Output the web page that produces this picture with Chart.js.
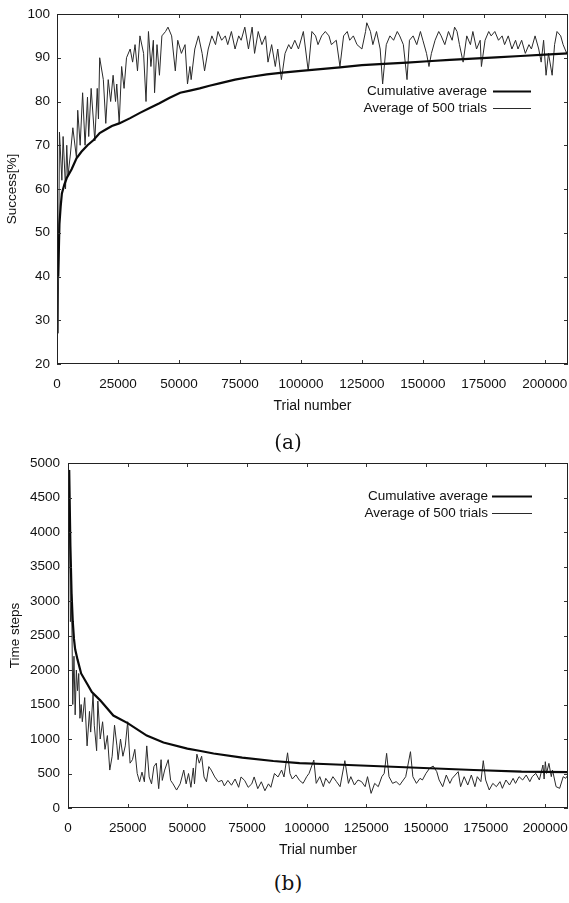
<!DOCTYPE html>
<html><head><meta charset="utf-8">
<script src="https://cdn.jsdelivr.net/npm/chart.js@4.4.0/dist/chart.umd.min.js"></script>
<style>
html,body{margin:0;padding:0;background:#fff;}
#wrap{position:relative;width:569px;height:903px;overflow:hidden;background:#fff;}
.box{position:absolute;left:0;}
.cap{position:absolute;left:0;width:576px;text-align:center;font-family:"DejaVu Serif","Liberation Serif",serif;font-size:20px;color:#111;line-height:24px;}
</style></head><body>
<div id="wrap">
  <div class="box" style="top:0;width:569px;height:420px"><canvas id="c1" width="569" height="420"></canvas></div>
  <div class="box" style="top:420px;width:569px;height:450px"><canvas id="c2" width="569" height="450"></canvas></div>
  <div class="cap" style="top:430px">(a)</div>
  <div class="cap" style="top:871px">(b)</div>
</div>
<script>
// ---------- data ----------
const xTicks = [0, 25000, 50000, 75000, 100000, 125000, 150000, 175000, 200000];
const successTicks = [20, 30, 40, 50, 60, 70, 80, 90, 100];
const stepsTicks = [0, 500, 1000, 1500, 2000, 2500, 3000, 3500, 4000, 4500, 5000];
const seriesLabels = ["Cumulative average", "Average of 500 trials"];

const successAvgTrials = [500,1000,2000,2500,3500,4000,4500,5500,6500,8000,8500,9500,10500,11500,12500,13000,14000,15500,16500,17000,17500,19000,20000,21000,22000,23000,24000,24500,25500,26500,27500,28500,30000,31000,32000,33000,34000,35500,36500,37500,38500,39500,40000,41000,42000,43000,44500,45500,47000,48500,49500,51000,52500,53500,54500,55000,56500,58000,59500,60500,62000,63500,65000,66000,67500,69000,70000,71500,73000,74500,75500,77000,78500,80000,81000,82500,84000,85500,86500,88000,89500,90500,92000,93500,95000,96000,97500,99000,101000,103000,104500,106000,107000,108500,110000,111500,112500,114500,116000,117500,119000,120000,121500,123000,125000,126500,127000,128500,129500,131000,132500,133500,135000,136500,138000,139500,140500,142000,143500,144500,146000,147500,149000,150000,151500,152500,153500,155000,156500,157500,159000,160500,162000,163000,164000,165000,166500,168000,169500,170500,172000,173500,174000,175500,177000,178000,179500,181000,182500,183500,185000,186500,188000,189000,190500,192000,193500,194500,196000,197500,198500,199500,200500,201500,203000,204000,205000,206500,207500,209000,209500];
const successAvg500 = [27,73,62,72,60,70,63,68,74,67,78,70,82,70,81,72,83,71,83,76,90,85,75,85,80,86,80,84,75,88,83,90,92,89,93,87,95,91,80,96,88,94,82,93,86,95,96,97,95,87,94,91,93,84,88,85,92,95,91,87,92,95,93,96,94,95,93,96,92,95,94,97,92,97,91,96,93,95,89,93,88,92,85,91,93,92,94,92,96,87,96,95,93,95,96,95,93,94,88,95,96,94,95,93,92,96,98,96,93,96,92,84,93,95,94,96,95,93,85,94,95,93,96,94,91,88,91,94,96,95,93,96,94,97,96,93,89,95,93,96,92,94,88,94,96,95,96,94,95,93,95,92,94,92,94,91,93,92,95,92,89,94,86,91,86,93,96,95,93,91,92];
const successCumTrials = [500,1000,1500,2000,3000,4000,6000,8000,10000,12500,15000,17500,20000,22500,25500,30000,34000,38000,42000,46000,50500,54500,58500,62500,67000,73000,79000,86000,92500,100000,108000,116000,125000,134000,143500,152000,161000,170500,180000,190000,200000,209500];
const successCum = [40,52,56,59,61,62.5,64.5,67,68.5,70,71.2,72.8,73.6,74.4,75,76.2,77.4,78.5,79.6,80.8,82,82.5,83,83.6,84.2,85,85.6,86.2,86.6,87,87.4,87.8,88.3,88.6,88.9,89.2,89.5,89.8,90.1,90.4,90.7,91];

const stepsAvgTrials = [500,1000,1500,2000,2500,3000,3500,4000,4500,5000,5500,6000,7000,8000,9000,9500,10500,11000,12000,12500,13500,14500,15500,16500,17500,18500,19500,20500,21000,22000,23000,24000,25000,26000,27000,28000,29000,30000,31000,32000,33000,34000,35000,36000,37000,38000,39000,39500,40500,42000,43000,44000,45500,47000,48500,49500,50500,51500,52500,53000,54000,55000,56000,57000,58000,59000,60000,61500,63000,64500,65500,67000,68500,70000,71500,72500,74000,75500,77000,78000,79500,81000,82500,84000,85000,86500,88000,89500,90500,92000,93000,94000,95500,97000,98500,100000,101000,103000,104000,105500,107000,108000,109500,111000,112500,114000,116000,117500,118500,120000,121500,123000,124500,125500,127000,128500,130000,131500,132500,133500,134500,136000,137500,139000,140500,141500,143500,144500,146000,147500,148500,150000,151500,153000,154500,155500,157000,158500,160000,161000,163500,164500,166000,167500,169000,170500,171500,173000,174000,175000,176500,178000,179500,181000,182000,183500,185000,186500,187500,189000,190500,192000,193500,194500,196000,197500,199000,199500,200000,200500,201500,202500,203000,204500,206000,207500,208500,209500];
const stepsAvg500 = [4900,2700,3100,1500,2200,1350,2000,1700,1950,1300,1500,1250,1600,900,1400,1100,1650,1200,830,1550,1000,1250,850,1050,550,750,1200,900,700,1000,750,900,1250,650,700,850,500,380,520,380,900,450,350,600,650,280,700,400,550,700,400,350,260,350,550,350,500,300,580,350,780,650,750,450,380,600,550,450,380,400,320,400,330,420,300,450,400,300,350,450,280,380,250,350,300,500,450,550,450,800,500,420,480,400,357,454,502,695,357,454,309,430,357,454,382,309,686,357,454,333,406,382,309,454,212,357,309,454,502,792,454,357,382,333,406,454,816,454,357,430,406,502,575,608,527,406,309,478,357,430,527,309,454,333,478,309,454,382,686,406,261,357,309,382,285,406,333,430,357,454,406,478,382,454,502,406,623,420,671,502,647,454,550,309,285,454,430,478];
const stepsCumTrials = [500,1000,1500,2000,2500,3000,4000,5500,8000,10000,13500,19000,25000,33000,40000,50000,55000,61000,73000,86000,97000,107000,128000,149000,170000,190000,209500];
const stepsCum = [4900,3800,3100,2700,2450,2300,2150,1950,1800,1680,1560,1340,1230,1050,950,860,830,790,730,681,650,638,609,580,551,526,520];

// ---------- helpers ----------
const pts = (xs, ys) => xs.map((x, i) => ({x: x, y: ys[i]}));
const FONT = "'Liberation Sans', Arial, Helvetica, sans-serif";
const INK = '#111';

const framePlugin = {
  id: 'frame',
  afterDatasetsDraw(chart, args, opts) {
    const {ctx, chartArea: a, scales} = chart;
    ctx.save();
    ctx.lineWidth = 1;
    ctx.strokeStyle = '#333';
    const seg = (x1, y1, x2, y2) => { ctx.beginPath(); ctx.moveTo(x1, y1); ctx.lineTo(x2, y2); ctx.stroke(); };
    const L = 4;
    scales.x.ticks.forEach(t => {
      const px = Math.round(scales.x.getPixelForValue(t.value)) + 0.5;
      seg(px, a.bottom, px, a.bottom - L);
      seg(px, a.top, px, a.top + L);
    });
    scales.y.ticks.forEach(t => {
      const py = Math.round(scales.y.getPixelForValue(t.value)) + 0.5;
      seg(a.left, py, a.left + L, py);
      seg(a.right, py, a.right - L, py);
    });
    ctx.strokeStyle = '#222';
    ctx.strokeRect(Math.round(a.left) + 0.5, Math.round(a.top) + 0.5, Math.round(a.right - a.left) - 1, Math.round(a.bottom - a.top) - 1);
    // legend (text left, line sample right)
    ctx.font = "13.5px " + FONT;
    ctx.fillStyle = INK;
    ctx.textAlign = 'right';
    ctx.textBaseline = 'middle';
    chart.data.datasets.forEach((ds, i) => {
      const y = a.top + opts.top + i * opts.gap;
      ctx.fillText(ds.label, a.right - opts.textRight, y);
      ctx.strokeStyle = ds.borderColor;
      ctx.lineWidth = ds.borderWidth;
      seg(a.right - opts.lineStart, Math.round(y) + 0.5, a.right - opts.lineEnd, Math.round(y) + 0.5);
    });
    ctx.restore();
  }
};

function makeChart(id, cfg) {
  return new Chart(document.getElementById(id), {
    type: 'line',
    data: {
      datasets: [
        {label: seriesLabels[0], data: pts(cfg.cumX, cfg.cumY), borderColor: '#0a0a0a', borderWidth: 2.2, pointRadius: 0, tension: 0, order: 1},
        {label: seriesLabels[1], data: pts(cfg.avgX, cfg.avgY), borderColor: '#2a2a2a', borderWidth: 1, pointRadius: 0, tension: 0, order: 2}
      ]
    },
    options: {
      responsive: false,
      animation: false,
      layout: {padding: {top: cfg.padTop, right: 1, left: 0, bottom: 0}},
      plugins: {
        legend: {display: false},
        tooltip: {enabled: false},
        frame: cfg.legend
      },
      scales: {
        x: {
          type: 'linear', min: 0, max: 209500,
          grid: {display: false, drawTicks: false},
          border: {display: false},
          afterBuildTicks: s => { s.ticks = xTicks.map(v => ({value: v})); },
          afterFit: s => { s.height = cfg.xHeight; s.paddingLeft = 0; s.paddingRight = 0; },
          ticks: {color: INK, font: {family: FONT, size: 13.5}, padding: 12, maxRotation: 0, autoSkip: false, callback: v => String(v)},
          title: {display: true, text: 'Trial number', color: INK, font: {family: FONT, size: 14}, padding: {top: 0, bottom: cfg.xTitlePad}}
        },
        y: {
          type: 'linear', min: cfg.yTicks[0], max: cfg.yTicks[cfg.yTicks.length - 1],
          grid: {display: false, drawTicks: false},
          border: {display: false},
          afterBuildTicks: s => { s.ticks = cfg.yTicks.map(v => ({value: v})); },
          afterFit: s => { s.width = cfg.yWidth; s.paddingTop = 0; s.paddingBottom = 0; },
          ticks: {color: INK, font: {family: FONT, size: 13.5}, padding: cfg.yTickPad, autoSkip: false, callback: v => String(v)},
          title: {display: true, text: cfg.yTitle, color: INK, font: {family: FONT, size: 13.5}, padding: {top: cfg.yTitlePad, bottom: 0}}
        }
      }
    },
    plugins: [framePlugin]
  });
}

makeChart('c1', {
  cumX: successCumTrials, cumY: successCum, avgX: successAvgTrials, avgY: successAvg500,
  yTicks: successTicks, yTitle: 'Success[%]',
  padTop: 14, xHeight: 56, yWidth: 57, xTitlePad: 5.6, yTitlePad: 4, yTickPad: 7,
  legend: {top: 77, gap: 17, textRight: 81, lineStart: 75, lineEnd: 37}
});
makeChart('c2', {
  cumX: stepsCumTrials, cumY: stepsCum, avgX: stepsAvgTrials, avgY: stepsAvg500,
  yTicks: stepsTicks, yTitle: 'Time steps',
  padTop: 43, xHeight: 62, yWidth: 68, xTitlePad: 11.6, yTitlePad: 7, yTickPad: 8,
  legend: {top: 33, gap: 17, textRight: 80, lineStart: 76, lineEnd: 36}
});
</script>
</body></html>
